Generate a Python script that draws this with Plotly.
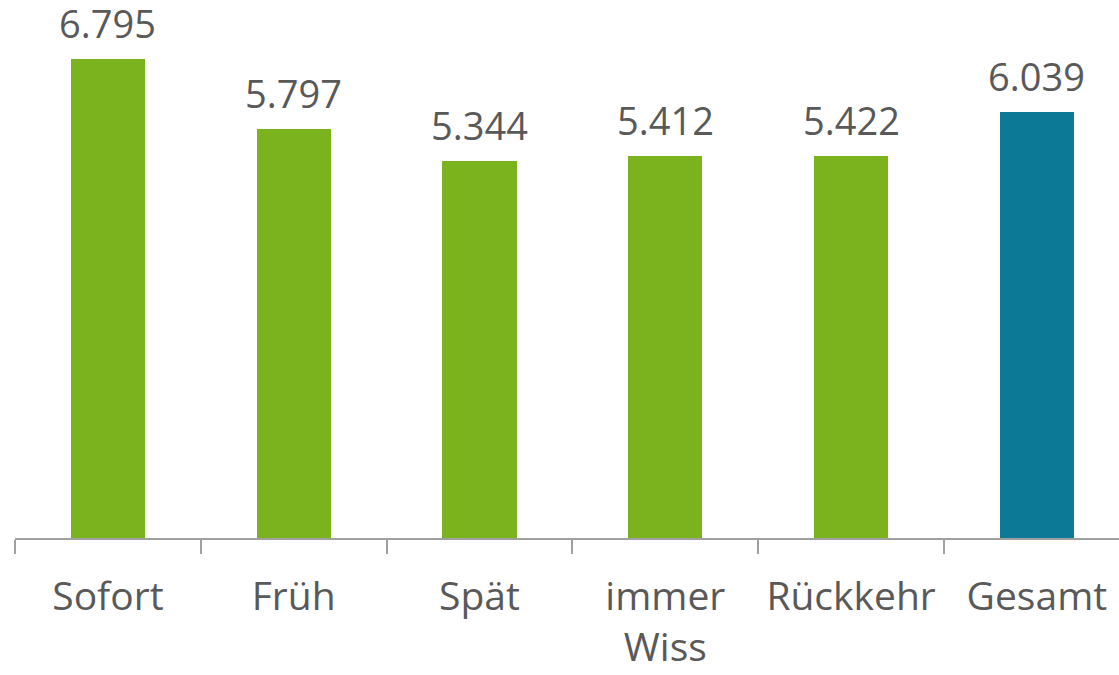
import plotly.graph_objects as go

categories = ['Sofort', 'Früh', 'Spät', 'immer<br>Wiss', 'Rückkehr', 'Gesamt']
values = [6.795, 5.797, 5.344, 5.412, 5.422, 6.039]
value_labels = ['6.795', '5.797', '5.344', '5.412', '5.422', '6.039']
colors = ['#7BB31F'] * 5 + ['#0C7A96']

text_color = '#595959'
font_family = 'Open Sans, sans-serif'

fig = go.Figure()
fig.add_trace(go.Bar(
    x=categories,
    y=values,
    marker=dict(color=colors, line=dict(width=0)),
    width=0.4,
    hoverinfo='skip',
))

# value labels above each bar
for cat, v, lbl in zip(categories, values, value_labels):
    fig.add_annotation(
        x=cat, y=v, text=lbl, showarrow=False,
        yanchor='bottom', yshift=8,
        font=dict(family=font_family, size=38, color=text_color),
    )

fig.update_xaxes(
    type='category',
    range=[-0.5, 5.442],
    showline=True, linecolor='#A0A0A0', linewidth=2,
    ticks='outside', tickson='boundaries', ticklen=14, tickwidth=2, tickcolor='#A0A0A0',
    tickfont=dict(family=font_family, size=39, color=text_color),
    ticklabelstandoff=23,
    showgrid=False, zeroline=False, automargin=False,
)
fig.update_yaxes(range=[0, 7.632], visible=False, showgrid=False, zeroline=False,
                 automargin=False)

fig.update_layout(
    width=1119, height=675,
    margin=dict(l=15, r=0, t=0, b=137),
    plot_bgcolor='white', paper_bgcolor='white',
    showlegend=False,
    bargap=0,
)

# drop the default page margin so the figure sits at the window's corner
fig.write_html('out.html', config={'displayModeBar': False},
               post_script="document.body.style.margin='0';")
